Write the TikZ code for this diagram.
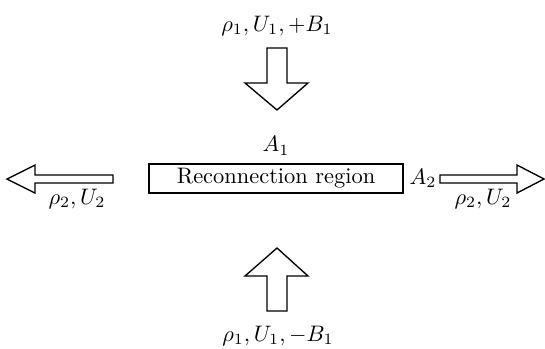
\documentclass[tikz,border=0pt]{standalone}
\usetikzlibrary{positioning}

\begin{document}
\begin{tikzpicture}[x=0.446pt, y=-0.446pt,
    flowarrow/.style={semithick, line join=miter},
    regionbox/.style={draw, thick, minimum width=113.3pt, minimum height=12.9pt, inner sep=0pt}]
    \useasboundingbox (0,0) rectangle (545,348);

    % --- Central box ---
    \node[regionbox] (region) at (276,178.5) {Reconnection region};
    \node[above=0pt of region] (a1) {$A_1$};
    \node[right=-1pt of region] (a2) {$A_2$};

    % --- Inflow from above and below ---
    \draw[flowarrow] (267,48) -- (287,48) -- (287,83) -- (308,83) -- (277,110)
        -- (245,83) -- (267,83) -- cycle;
    \draw[flowarrow] (267,311) -- (287,311) -- (287,276) -- (308,276) -- (277,248)
        -- (245,276) -- (267,276) -- cycle;
    \node (intop) at (277,26) {$\rho_1, U_1, +B_1$};
    \node (inbot) at (278,336) {$\rho_1, U_1, -B_1$};

    % --- Outflow to the sides ---
    \draw[flowarrow] (113,175) -- (35,175) -- (35,165) -- (7,179) -- (35,193)
        -- (35,183) -- (113,183) -- cycle;
    \draw[flowarrow] (440,175) -- (517,175) -- (517,165) -- (544,179) -- (517,193)
        -- (517,183) -- (440,183) -- cycle;
    \node (outleft) at (77,199) {$\rho_2, U_2$};
    \node (outright) at (483,199) {$\rho_2, U_2$};

\end{tikzpicture}
\end{document}
